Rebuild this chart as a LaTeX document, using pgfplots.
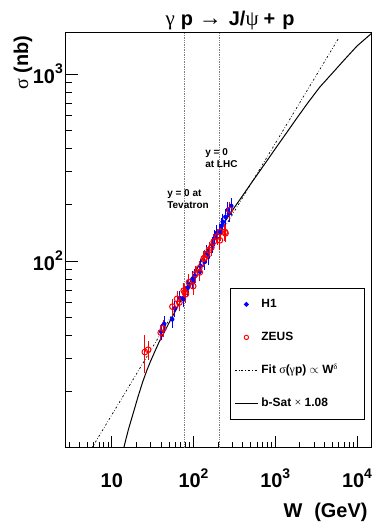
\documentclass[border=0pt]{standalone}
\usepackage{pgfplots}
\pgfplotsset{compat=1.18}
\usepackage{fontspec}
\setmainfont{Liberation Sans}
\newfontfamily\grk{Liberation Serif}
\newcommand\sups[1]{\raisebox{0.5em}{\fontsize{14}{14}\selectfont #1}}

\pgfplotstableread{
W s e
40 42 4
43.6 46 4.5
54.7 48.8 5
59 55.8 5.5
68 63.4 6
74.6 62.6 6
85 72 7
88 74.5 7
96 79 8
98 80.5 8
103.6 83 8
119 88 9
122 94 9
137 99 10
145 110 11
151 106 11
171 122 12
183 133 13
191 141 14
209 143 15
220 154 15
228 162 16
246 172 17
263 188 19
272 180 18
289 197 20
}\hone

\pgfplotstableread{
W s e
25.4 32.6 7.5
27.8 33.5 4
39.7 41.4 4
42.5 43.6 4.5
55.3 57 6
63 62.7 6.5
67 60 6
76 69.4 7
78 68 7
80.5 66.6 7
88 77 8
98.9 73.4 8
105 85 8.5
117 91.4 9
119 87 9
133.5 103 10
137 104 10
145 108 11
155 114.5 12
165 118 12
177 127 13
195 135 14
210 129 14
213 143 15
242 143 15
246 140.6 15
278 187 20
}\zeus

\begin{document}
\begin{tikzpicture}
\useasboundingbox (-66bp,-76bp) rectangle (306bp,448bp);
\begin{axis}[
  at={(0,0)}, anchor=south west,
  scale only axis, width=306bp, height=415bp,
  xmode=log, ymode=log,
  xmin=2.75, xmax=15270, ymin=10, ymax=1656,
  axis line style={line width=1bp},
  xtick={10,100,1000,10000},
  xticklabels={10, 10\sups{2}, 10\sups{3}, 10\sups{4}},
  ytick={100,1000},
  yticklabels={10\sups{2}, 10\sups{3}},
  minor xtick={3,4,5,6,7,8,9,20,30,40,50,60,70,80,90,200,300,400,500,600,700,800,900,2000,3000,4000,5000,6000,7000,8000,9000},
  minor ytick={20,30,40,50,60,70,80,90,200,300,400,500,600,700,800,900},
  xtick pos=bottom, ytick pos=left, tick align=inside,
  major tick length=12bp, minor tick length=6bp,
  tick style={line width=0.8bp, black},
  xticklabel style={anchor=base, yshift=-40bp, inner sep=0pt, font=\fontsize{20}{20}\selectfont\bfseries},
  yticklabel style={anchor=east, inner sep=0pt, xshift=-3bp, font=\fontsize{20}{20}\selectfont\bfseries},
  legend style={at={(0.9771,0.0675)}, anchor=south east, draw=black, line width=1.2bp, fill=white,
    inner xsep=4bp, inner ysep=7bp, row sep=15bp,
    font=\fontsize{12}{14}\selectfont\bfseries,
    nodes={inner sep=3bp, text height=9bp, text depth=3bp, anchor=west}},
  legend cell align=left,
]
\addplot[forget plot, gray, densely dotted, line width=0.7bp] coordinates {(78,10) (78,1656)};
\addplot[forget plot, gray, densely dotted, line width=0.7bp] coordinates {(208,10) (208,1656)};
\addplot[forget plot, black, line width=0.7bp, dash pattern=on 2bp off 2bp on 0.6bp off 2bp] coordinates {(5.7,10) (6000,1560)};
\addplot[forget plot, black, line width=1bp] coordinates {
(14,10) (15,11.3) (16,12.6) (17.5,14.4) (19.1,16.4) (21,18.9) (23.9,22.6) (27,26.2) (30,29.3) (34,33.2) (38.7,37.6) (45,42.5) (50,46.6) (60,54) (70,61.5) (85,73) (100,84) (120,97) (150,116) (200,143) (250,166) (300,187) (400,224) (500,258) (700,318) (1000,398) (1400,490) (1845,582) (2500,700) (3500,850) (5000,1010) (7000,1190) (10000,1410) (15270,1656)};
\addplot[forget plot, blue, only marks, mark=*, mark size=2.1bp,
  error bars/.cd, y dir=both, y explicit, error mark=none, error bar style={line width=1bp, blue}]
  table[x=W, y=s, y error=e] {\hone};
\addplot[forget plot, red, only marks, mark=o, mark size=2.9bp, mark options={line width=1bp},
  error bars/.cd, y dir=both, y explicit, error mark=none, error bar style={line width=1bp, red}]
  table[x=W, y=s, y error=e] {\zeus};

\addlegendimage{legend image code/.code={\fill[blue] (11.5bp,0bp) circle (1.8bp);}}
\addlegendentry{\makebox[96bp][l]{H1}}
\addlegendimage{legend image code/.code={\draw[red, line width=0.9bp] (11.5bp,0bp) circle (2.2bp);}}
\addlegendentry{\makebox[96bp][l]{ZEUS}}
\addlegendimage{legend image code/.code={\draw[black, line width=0.7bp, dash pattern=on 2bp off 2bp on 0.6bp off 2bp] (0bp,0bp) -- (23bp,0bp);}}
\addlegendentry{\makebox[96bp][l]{Fit {\grk\mdseries σ}({\grk\mdseries γ}p) $\propto$ W\textsuperscript{\grk\mdseries δ}}}
\addlegendimage{legend image code/.code={\draw[black, line width=1bp] (0bp,0bp) -- (23bp,0bp);}}
\addlegendentry{\makebox[96bp][l]{b-Sat {\grk\mdseries ×} 1.08}}

\node[anchor=west, align=left, font=\fontsize{10}{12.5}\selectfont\bfseries] at (axis cs:43.3,214.6) {y = 0 at\\Tevatron};
\node[anchor=west, align=left, font=\fontsize{10}{12.5}\selectfont\bfseries] at (axis cs:126.4,355.6) {y = 0\\at LHC};
\end{axis}
\node[anchor=base, font=\fontsize{20}{20}\selectfont\bfseries] at (164bp,422bp)
  {{\grk\mdseries\fontsize{21}{21}\selectfont γ}\hspace{6bp}p\hspace{6bp}{\grk\mdseries\fontsize{23}{23}\selectfont →}\hspace{7bp}J/{\grk\mdseries\fontsize{21}{21}\selectfont ψ}\hspace{5bp}+\hspace{7bp}p};
\node[rotate=90, anchor=base east, font=\fontsize{20}{20}\selectfont\bfseries] at (-38bp,416bp) {{\grk\mdseries σ} (nb)};
\node[anchor=base east, font=\fontsize{20}{20}\selectfont\bfseries] at (305bp,-69bp) {W\hspace{12bp}(GeV)};
\end{tikzpicture}
\end{document}
